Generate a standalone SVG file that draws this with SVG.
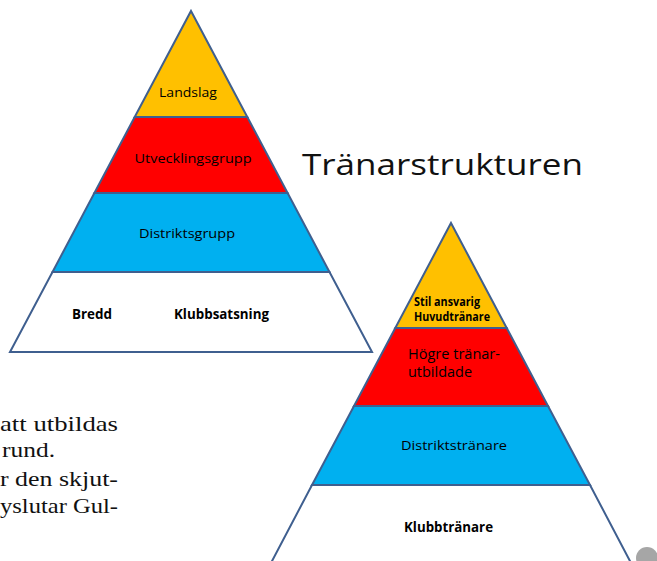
<svg xmlns="http://www.w3.org/2000/svg" width="657" height="561" viewBox="0 0 657 561">
<style>
.band{stroke:#3F5F8F;stroke-width:2;stroke-linejoin:miter}
.y{fill:#FFC000}.r{fill:#FF0000}.b{fill:#00B0F0}.w{fill:#FFFFFF}
.lbl{font-family:"Open Sans","Noto Sans",sans-serif;font-size:13.5px;fill:#000;text-anchor:middle}
.bold{font-weight:bold}
.body{font-family:"Liberation Serif","DejaVu Serif",serif;font-size:22px;fill:#111}
.title{font-family:"Open Sans","Noto Sans",sans-serif;font-size:29px;fill:#111}
</style>
<rect width="657" height="561" fill="#FFFFFF"/>

<g id="left-pyramid">
  <g id="landslag">
    <polygon class="band y" points="191,11 247.3,117 134.7,117"/>
    <text class="lbl" x="188" y="97" textLength="58" lengthAdjust="spacingAndGlyphs">Landslag</text>
  </g>
  <g id="utvecklingsgrupp">
    <polygon class="band r" points="134.7,117 247.3,117 287.6,193 94.4,193"/>
    <text class="lbl" x="193" y="163" textLength="117" lengthAdjust="spacingAndGlyphs">Utvecklingsgrupp</text>
  </g>
  <g id="distriktsgrupp">
    <polygon class="band b" points="94.4,193 287.6,193 329.5,272 52.5,272"/>
    <text class="lbl" x="187" y="238" textLength="96" lengthAdjust="spacingAndGlyphs">Distriktsgrupp</text>
  </g>
  <g id="bredd">
    <polygon class="band w" points="52.5,272 329.5,272 372,352 10,352"/>
    <text class="lbl bold" x="92" y="319" textLength="40" lengthAdjust="spacingAndGlyphs">Bredd</text>
    <text class="lbl bold" x="221.5" y="319" textLength="95" lengthAdjust="spacingAndGlyphs">Klubbsatsning</text>
  </g>
</g>

<g id="title">
  <text class="title" x="302" y="175" textLength="281" lengthAdjust="spacingAndGlyphs">Tränarstrukturen</text>
</g>

<g id="right-pyramid">
  <g id="huvudtranare">
    <polygon class="band y" points="451,223 506.7,328 395.3,328"/>
    <text class="lbl bold" x="414" y="306" style="text-anchor:start;font-size:11.5px" textLength="66" lengthAdjust="spacingAndGlyphs">Stil ansvarig</text>
    <text class="lbl bold" x="414" y="321" style="text-anchor:start;font-size:11.5px" textLength="76" lengthAdjust="spacingAndGlyphs">Huvudtränare</text>
  </g>
  <g id="hogre-tranarutbildade">
    <polygon class="band r" points="395.3,328 506.7,328 548,406 354,406"/>
    <text class="lbl" x="408" y="359" style="text-anchor:start;font-size:14.5px" textLength="92" lengthAdjust="spacingAndGlyphs">Högre tränar-</text>
    <text class="lbl" x="408" y="377" style="text-anchor:start;font-size:14.5px" textLength="64" lengthAdjust="spacingAndGlyphs">utbildade</text>
  </g>
  <g id="distriktstranare">
    <polygon class="band b" points="354,406 548,406 590,485 312,485"/>
    <text class="lbl" x="454" y="450" textLength="106" lengthAdjust="spacingAndGlyphs">Distriktstränare</text>
  </g>
  <g id="klubbtranare">
    <polygon class="band w" points="312,485 590,485 641,582 261,582"/>
    <text class="lbl bold" x="448.5" y="532" textLength="89" lengthAdjust="spacingAndGlyphs">Klubbtränare</text>
  </g>
</g>

<g id="body-text">
  <text class="body" x="0" y="431" textLength="118" lengthAdjust="spacingAndGlyphs">att utbildas</text>
  <text class="body" x="2" y="457" textLength="53" lengthAdjust="spacingAndGlyphs">rund.</text>
  <text class="body" x="0" y="486" textLength="118" lengthAdjust="spacingAndGlyphs">r den skjut-</text>
  <text class="body" x="0" y="513" textLength="118" lengthAdjust="spacingAndGlyphs">yslutar Gul-</text>
</g>

<g id="page-marker">
  <circle cx="647" cy="558" r="11" fill="#A6A6A6"/>
</g>
</svg>
